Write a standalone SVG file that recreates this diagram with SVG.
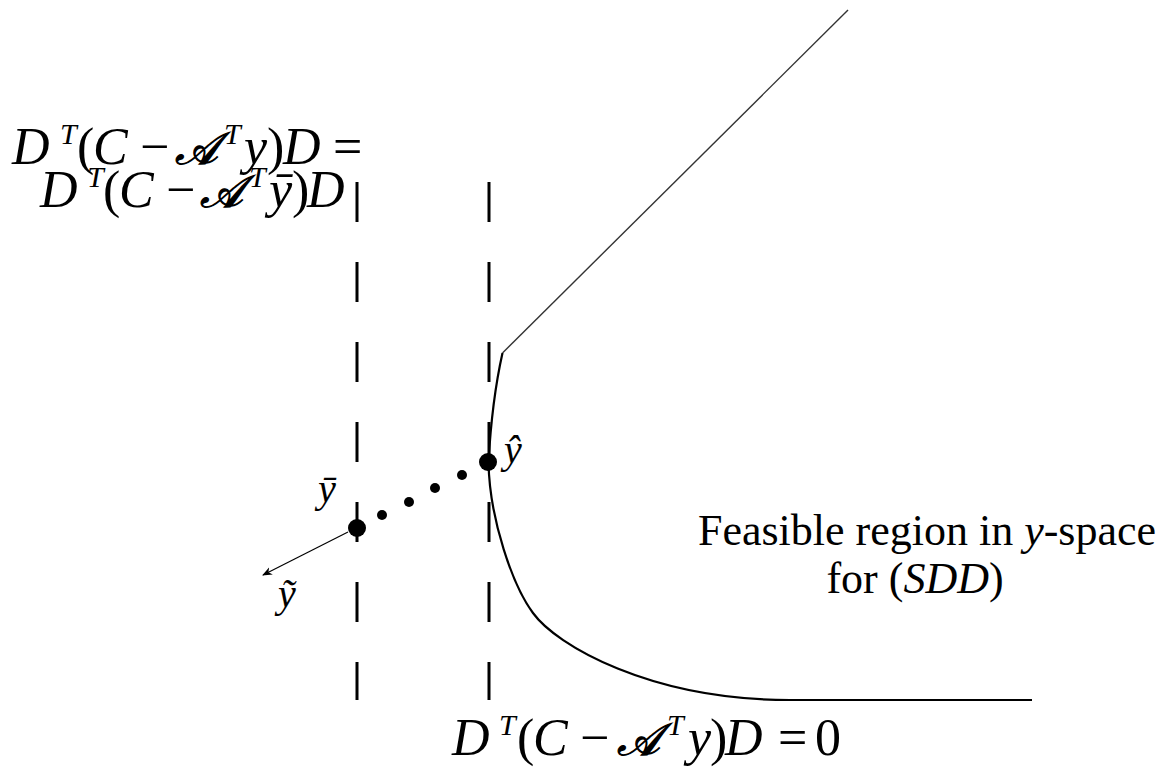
<svg xmlns="http://www.w3.org/2000/svg" width="1172" height="767" viewBox="0 0 1172 767">
<defs>
<style>
.m{font-family:"Liberation Serif","DejaVu Serif",serif;font-size:52px;fill:#000}
.i{font-style:italic}
.s{font-style:italic;font-size:30px}
.a{font-size:45px;stroke:#000;stroke-width:1.2}
.t{font-family:"Liberation Serif","DejaVu Serif",serif;font-size:44px;fill:#000}
.p{font-family:"Liberation Serif","DejaVu Serif",serif;font-size:40px;fill:#000;font-style:italic}
.dash{stroke:#000;stroke-width:3;stroke-dasharray:40 40;fill:none}
.curve{stroke:#000;stroke-width:2.2;fill:none}
.thin{stroke:#333;stroke-width:1.4;fill:none}
</style>
<marker id="arr" viewBox="0 0 10 10" refX="9" refY="5" markerWidth="10" markerHeight="10" markerUnits="userSpaceOnUse" orient="auto">
<path d="M0,1 L10,5 L0,9 L3,5 Z" fill="#000"/>
</marker>
</defs>
<rect width="1172" height="767" fill="#fff"/>
<g id="connectors">
<line class="dash" x1="357" y1="182" x2="357" y2="700"/>
<line class="dash" x1="489" y1="182" x2="489" y2="700"/>
<path class="thin" d="M502.5,353 L848,10"/>
<path class="curve" d="M502.5,353 Q492,400 488.5,462 C489.5,520 513,586 533,613 C556,645 650,700 790,700 L1032,700"/>
<path d="M348,532 L263,575" stroke="#000" stroke-width="1.2" fill="none" marker-end="url(#arr)"/>
</g>
<g id="points">
<circle cx="357" cy="528" r="9"/>
<circle cx="488" cy="462" r="9"/>
<circle cx="382" cy="515" r="5"/>
<circle cx="409" cy="502" r="5"/>
<circle cx="435" cy="488" r="5"/>
<circle cx="462" cy="475" r="5"/>
</g>
<g id="label-top">
<text class="m"><tspan class="i" x="12" y="164">D</tspan><tspan class="s" x="60" y="144">T</tspan><tspan x="77" y="164">(</tspan><tspan class="i" x="93" y="164">C</tspan><tspan x="140" y="164">−</tspan><tspan class="i a" x="175" y="164">𝒜</tspan><tspan class="s" x="224" y="144">T</tspan><tspan class="i" x="244" y="164">y</tspan><tspan x="267" y="164">)</tspan><tspan class="i" x="283" y="164">D</tspan><tspan x="333" y="164">=</tspan></text>
<text class="m"><tspan class="i" x="40" y="207">D</tspan><tspan class="s" x="87" y="187">T</tspan><tspan x="103" y="207">(</tspan><tspan class="i" x="119" y="207">C</tspan><tspan x="166" y="207">−</tspan><tspan class="i a" x="200" y="207">𝒜</tspan><tspan class="s" x="249" y="187">T</tspan><tspan class="i" x="269" y="207">ȳ</tspan><tspan x="292" y="207">)</tspan><tspan class="i" x="307" y="207">D</tspan></text>
</g>
<g id="label-bottom">
<text class="m"><tspan class="i" x="452" y="755">D</tspan><tspan class="s" x="499" y="735">T</tspan><tspan x="517" y="755">(</tspan><tspan class="i" x="533" y="755">C</tspan><tspan x="580" y="755">−</tspan><tspan class="i a" x="617" y="755">𝒜</tspan><tspan class="s" x="667" y="735">T</tspan><tspan class="i" x="688" y="755">y</tspan><tspan x="710" y="755">)</tspan><tspan class="i" x="725" y="755">D</tspan><tspan x="778" y="755">=</tspan><tspan x="815" y="755">0</tspan></text>
</g>
<g id="label-region">
<text class="t" x="927" y="545" text-anchor="middle">Feasible region in <tspan class="i">y</tspan>-space</text>
<text class="t" x="915" y="593" text-anchor="middle">for (<tspan class="i">SDD</tspan>)</text>
</g>
<g id="label-points">
<text class="p" x="318" y="502">ȳ</text>
<text class="p" x="504" y="463">ŷ</text>
<text class="p" x="278" y="607">ỹ</text>
</g>
</svg>
